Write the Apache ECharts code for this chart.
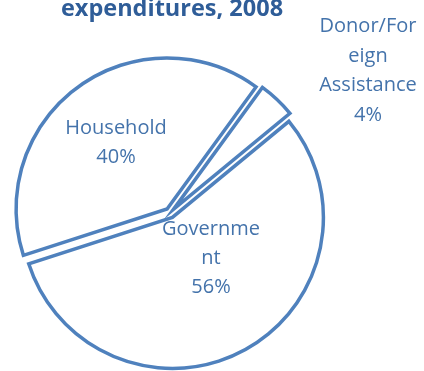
<!DOCTYPE html>
<html>
<head>
<meta charset="utf-8">
<title>Health expenditures, 2008</title>
<script src="https://cdn.jsdelivr.net/npm/echarts@6/dist/echarts.min.js"></script>
<style>
  html, body { margin: 0; padding: 0; background: #ffffff; }
  #chart { width: 424px; height: 371px; }
</style>
</head>
<body>
<div id="chart"></div>
<script>
// Sources of health spending, 2008 (percent of total)
const categories = ['Government', 'Household', 'Donor/Foreign Assistance'];
const shares = [56, 40, 4];
// Label text as wrapped in the chart
const labelLines = [['Governme', 'nt'], ['Household'], ['Donor/For', 'eign', 'Assistance']];
const titleText = 'expenditures, 2008';

// Layout
const CX = 170, CY = 213, R = 151;
const LINE = '#4F81BD';
const LABEL_COLOR = '#4473ab';
const TITLE_COLOR = '#2f5d98';
const FONT = '"Open Sans", "Liberation Sans", sans-serif';
// Label block centres, relative to the pie centre
const labelPos = [[41, 45], [-54, -70], [198, -142]];

const chart = echarts.init(document.getElementById('chart'), null, { renderer: 'canvas' });

const total = shares.reduce((a, b) => a + b, 0);

const data = categories.map((name, i) => ({
  name: name,
  value: shares[i],
  selected: true
}));

// Slice labels: category text followed by its share of the total
const labelGraphics = categories.map((name, i) => ({
  type: 'text',
  x: CX + labelPos[i][0],
  y: CY + labelPos[i][1],
  z: 10,
  style: {
    text: labelLines[i].concat([Math.round(shares[i] / total * 100) + '%']).join('\n'),
    font: '20px ' + FONT,
    fill: LABEL_COLOR,
    align: 'center',
    verticalAlign: 'middle',
    lineHeight: i === 2 ? 29.5 : 29
  }
}));

chart.setOption({
  animation: false,
  backgroundColor: '#ffffff',
  graphic: [{
    type: 'text',
    x: CX + 2,
    y: 9,
    style: {
      text: titleText,
      font: 'bold 23.5px ' + FONT,
      fill: TITLE_COLOR,
      align: 'center',
      verticalAlign: 'middle'
    }
  }].concat(labelGraphics),
  series: [{
    type: 'pie',
    center: [CX, CY],
    radius: R,
    startAngle: 39.5,
    clockwise: true,
    selectedMode: 'multiple',
    selectedOffset: 5,
    emphasis: { disabled: true },
    itemStyle: {
      color: '#ffffff',
      borderColor: LINE,
      borderWidth: 3.5,
      borderJoin: 'miter'
    },
    label: { show: false },
    labelLine: { show: false },
    data: data
  }]
});
</script>
</body>
</html>
